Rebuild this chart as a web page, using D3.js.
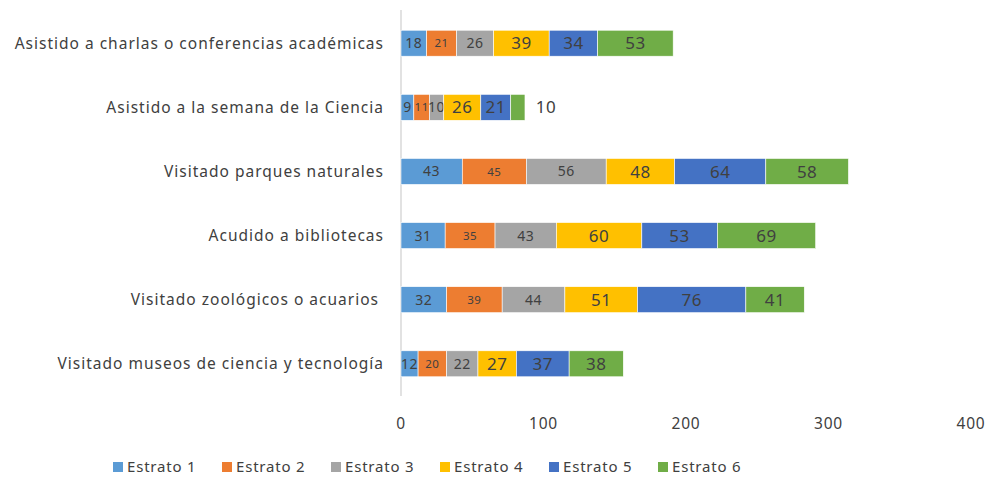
<!DOCTYPE html>
<html><head><meta charset="utf-8">
<script src="https://cdn.jsdelivr.net/npm/d3@7"></script>
<style>body{margin:0;background:#fff}svg{display:block}text{font-family:"Noto Sans",sans-serif;fill:#404040}</style>
</head><body><svg id="c" width="993" height="477"></svg>
<script>
const categories = ["Asistido a charlas o conferencias académicas","Asistido a la semana de la Ciencia","Visitado parques naturales","Acudido a bibliotecas","Visitado zoológicos o acuarios ","Visitado museos de ciencia y tecnología"];
const seriesNames = ["Estrato 1","Estrato 2","Estrato 3","Estrato 4","Estrato 5","Estrato 6"];
const estrato1 = [18, 9, 43, 31, 32, 12];
const estrato2 = [21, 11, 45, 35, 39, 20];
const estrato3 = [26, 10, 56, 43, 44, 22];
const estrato4 = [39, 26, 48, 60, 51, 27];
const estrato5 = [34, 21, 64, 53, 76, 37];
const estrato6 = [53, 10, 58, 69, 41, 38];
const xTicks = [0, 100, 200, 300, 400];
const colors = ["#5B9BD5","#ED7D31","#A5A5A5","#FFC000","#4472C4","#70AD47"];
const labelSizes = [14, 11.5, 14, 17, 17, 17];

const seriesVals = [estrato1, estrato2, estrato3, estrato4, estrato5, estrato6];
const rows = categories.map((c, i) => {
  const o = {cat: c};
  seriesNames.forEach((s, j) => o[s] = seriesVals[j][i]);
  return o;
});
const stack = d3.stack().keys(seriesNames)(rows);

const svg = d3.select("#c");
const x = d3.scaleLinear().domain([0, 400]).range([401, 971]);
const y = d3.scaleBand().domain(categories).range([11, 396]).paddingInner(0.595).paddingOuter(0.3);

svg.append("line").attr("x1", x(0)).attr("x2", x(0)).attr("y1", 10).attr("y2", 396)
  .attr("stroke", "#d9d9d9").attr("stroke-width", 1.5);

stack.forEach((layer, j) => {
  const g = svg.append("g");
  g.selectAll("rect").data(layer).join("rect")
    .attr("x", d => x(d[0])).attr("width", d => x(d[1]) - x(d[0]))
    .attr("y", d => y(d.data.cat)).attr("height", y.bandwidth())
    .attr("fill", colors[j]).attr("stroke", "#fff").attr("stroke-width", 0.6);
  g.selectAll("text").data(layer).join("text")
    .attr("x", (d, i) => (j === 5 && i === 1) ? x(d[1]) + 21 : (x(d[0]) + x(d[1])) / 2)
    .attr("y", d => y(d.data.cat) + y.bandwidth() / 2)
    .attr("dy", "0.36em").attr("text-anchor", "middle")
    .style("font-size", (d, i) => (j === 5 && i === 1 ? 17 : labelSizes[j]) + "px")
    .style("letter-spacing", "0.5px")
    .text(d => d[1] - d[0]);
});

svg.append("g").selectAll("text").data(categories).join("text")
  .attr("x", 384).attr("y", d => y(d) + y.bandwidth() / 2).attr("dy", "0.36em")
  .attr("text-anchor", "end").style("font-size", "15.5px").style("letter-spacing", "1px")
  .style("white-space", "pre").text(d => d.replace(/ $/, "\u00a0"));

svg.append("g").selectAll("text").data(xTicks).join("text")
  .attr("x", d => x(d)).attr("y", 423).attr("dy", "0.36em").attr("text-anchor", "middle")
  .style("font-size", "15.5px").style("letter-spacing", "0.8px").text(d => d);

const legend = svg.append("g");
legend.selectAll("rect").data(seriesNames).join("rect")
  .attr("x", (d, i) => 113 + i * 109).attr("y", 462).attr("width", 10).attr("height", 10)
  .attr("fill", (d, i) => colors[i]);
legend.selectAll("text").data(seriesNames).join("text")
  .attr("x", (d, i) => 127 + i * 109).attr("y", 472)
  .style("font-size", "15px").style("letter-spacing", "0.8px").text(d => d);
</script></body></html>
